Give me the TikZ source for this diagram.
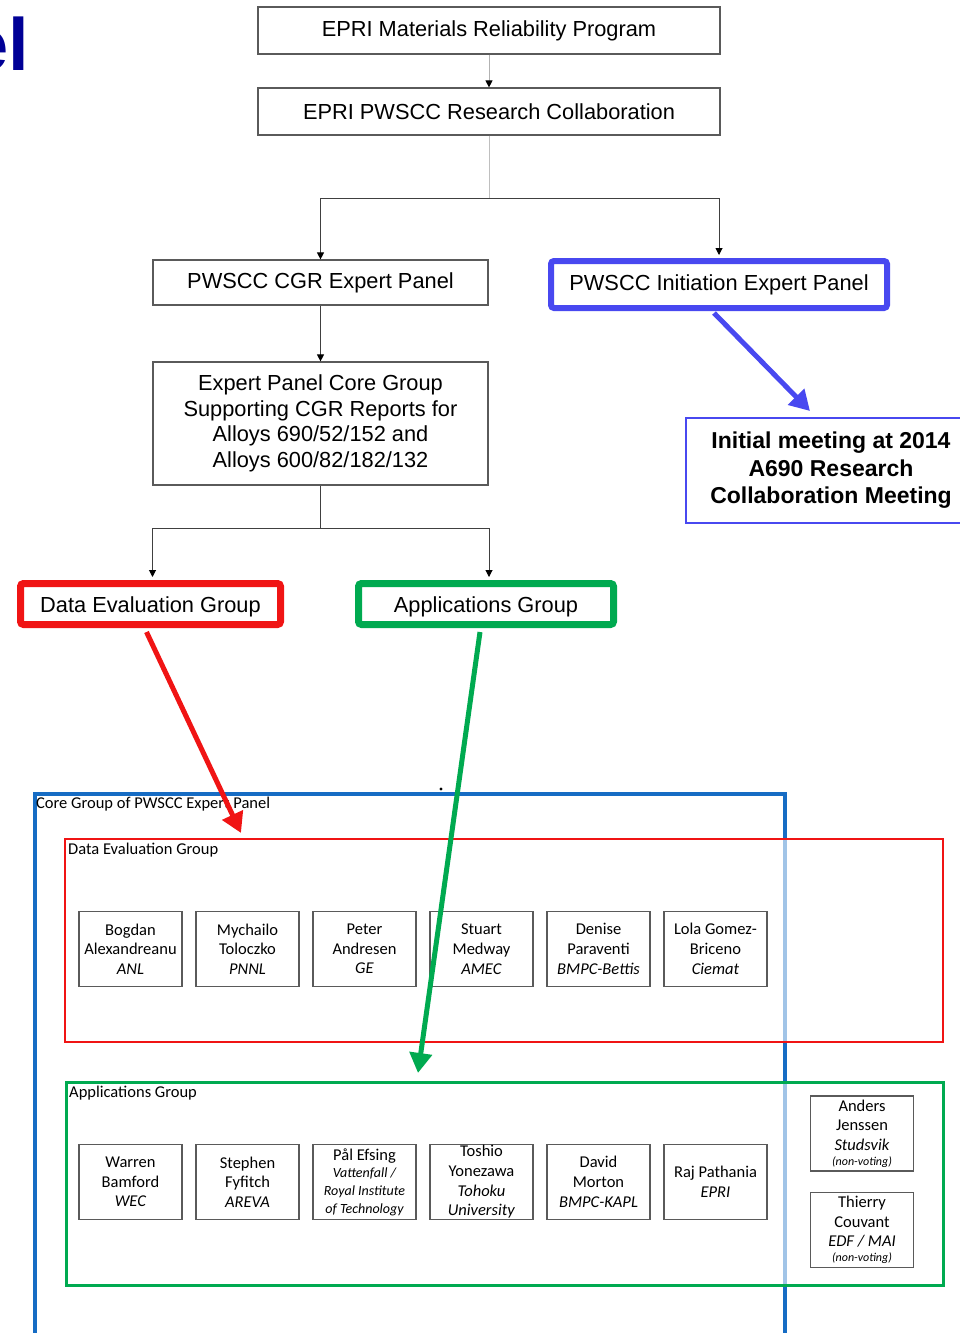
\documentclass[tikz,border=0pt]{standalone}
\definecolor{panelblue}{RGB}{72,72,240}
\definecolor{coreblue}{RGB}{22,108,196}
\definecolor{evalred}{RGB}{240,20,20}
\definecolor{appgreen}{RGB}{0,170,80}
\definecolor{titleblue}{RGB}{0,0,150}
\definecolor{boxgray}{RGB}{90,90,90}
\usepackage{fontspec}
\setmainfont{Liberation Sans}
\newfontfamily\calib{Carlito}
\newcommand\orgsmall[1]{{\itshape\fontsize{14}{17.5}\selectfont #1}}
\newcommand\nonvote[1]{{\itshape\fontsize{12}{13}\selectfont #1}}
\usepackage{tikz}
\usetikzlibrary{arrows.meta,positioning,calc}

\tikzset{
    orgbox/.style={draw=boxgray, line width=1.2pt, minimum width=462pt, minimum height=47pt,
          align=center, inner sep=2pt, font=\fontsize{21.8}{25.5}\selectfont},
    member/.style={draw=boxgray, line width=1.2pt, minimum width=103pt, minimum height=75pt,
          align=center, inner sep=0pt, font=\calib\fontsize{16.5}{19.7}\selectfont},
    grouplbl/.style={anchor=north west, inner sep=0pt, font=\calib\fontsize{16.5}{18}\selectfont},
    link/.style={draw=black!75, line width=1pt, -{Triangle[length=7pt,width=7pt,color=black]}},
    bigarrow/.style={line width=5pt, -{Triangle[length=20pt,width=22pt]}}
}

\begin{document}
\begin{tikzpicture}[x=1pt, y=-1pt]
    \useasboundingbox (0,0) rectangle (959,1333);

    \node[anchor=base east, inner sep=0pt, text=titleblue, font=\bfseries\fontsize{74}{74}\selectfont] (ttl) at (29,70) {el};

    % upper chart
    \node[orgbox] (mrp) at (489,30.5) {EPRI Materials Reliability Program};
    \node[orgbox] (collab) at (489,111.5) {EPRI PWSCC Research Collaboration};
    \node[orgbox, minimum width=335pt, minimum height=45pt] (cgr) at (320.5,282.5) {PWSCC CGR Expert Panel};
    \node[orgbox, draw=panelblue, line width=6pt, rounded corners=3pt, minimum width=336pt,
          minimum height=47pt] (init) at (719,284.5) {PWSCC Initiation Expert Panel};
    \node[draw=panelblue, line width=2pt, minimum width=290pt, minimum height=105pt, align=center,
          font=\bfseries\fontsize{23}{27.5}\selectfont] (meeting) at (831,470.5)
          {Initial meeting at 2014\\A690 Research\\Collaboration Meeting};
    \node[orgbox, minimum width=335pt, minimum height=123pt] (core) at (320.5,423.5)
          {Expert Panel Core Group\\Supporting CGR Reports for\\Alloys 690/52/152 and\\Alloys 600/82/182/132};
    \node[orgbox, draw=evalred, line width=7pt, rounded corners=3pt, minimum width=260pt,
          minimum height=41pt, text height=17pt, text depth=0pt] (deval) at (150.5,604) {Data Evaluation Group};
    \node[orgbox, draw=appgreen, line width=7pt, rounded corners=3pt, minimum width=255pt,
          minimum height=41pt, text height=17pt, text depth=0pt] (apps) at (486,604) {Applications Group};

    \draw[link, draw=black!30] (mrp) -- (collab);
    \draw[line width=1pt, draw=black!25] (collab.south) -- (collab.south |- 0,198) coordinate (fork1);
    \draw[link] (fork1) -| (cgr.north);
    \draw[link] (fork1) -| ($(init.north)+(0,-3)$);
    \draw[link] (cgr) -- (core);
    \draw[line width=1pt, draw=black!75] (core.south) -- ++(0,43) coordinate (fork2);
    \draw[link] (fork2) -| ($(deval.north)+(2,-3)$);
    \draw[link] (fork2) -| ($(apps.north)+(3,-3)$);

    % core group panel
    \node[draw=coreblue, line width=4pt, minimum width=750pt, minimum height=553pt, anchor=north west,
          inner sep=0pt] (coregrp) at (33,792) {};
    \node[grouplbl] (corelbl) at (36,797) {Core Group of PWSCC Expert Panel};
    \fill (441,789) circle (1.6pt);

    \node[draw=evalred, line width=2pt, fill=white, fill opacity=0.6, minimum width=878pt,
          minimum height=203pt, anchor=north west, inner sep=0pt] (evalbox) at (64,838) {};
    \node[grouplbl] (evallbl) at (68,843) {Data Evaluation Group};
    \node[draw=appgreen, line width=2.5pt, fill=white, fill opacity=0.6, minimum width=877pt,
          minimum height=203pt, anchor=north west, inner sep=0pt] (appbox) at (65,1081) {};
    \node[grouplbl] (applbl) at (69,1086) {Applications Group};

    \node[member] (bogdan) at (130.5,949) {Bogdan\\Alexandreanu\\\textit{ANL}};
    \node[member, right=12.8pt of bogdan] (mychailo) {Mychailo\\Toloczko\\\textit{PNNL}};
    \node[member, right=12.8pt of mychailo] (peter) {Peter\\Andresen\\\textit{GE}};
    \node[member, right=12.8pt of peter] (stuart) {Stuart\\Medway\\\textit{AMEC}};
    \node[member, right=12.8pt of stuart] (denise) {Denise\\Paraventi\\\textit{BMPC-Bettis}};
    \node[member, right=12.8pt of denise] (lola) {Lola Gomez-\\Briceno\\\textit{Ciemat}};

    \node[member] (warren) at (130.5,1182) {Warren\\Bamford\\\textit{WEC}};
    \node[member, right=12.8pt of warren] (stephen) {Stephen\\Fyfitch\\\textit{AREVA}};
    \node[member, right=12.8pt of stephen] (pal) {P\aa l Efsing\\[-2pt]
          \orgsmall{Vattenfall /}\\[-2pt]\orgsmall{Royal Institute}\\[-2pt]\orgsmall{of Technology}};
    \node[member, right=12.8pt of pal] (toshio) {Toshio\\Yonezawa\\\textit{Tohoku}\\\textit{University}};
    \node[member, right=12.8pt of toshio] (david) {David\\Morton\\\textit{BMPC-KAPL}};
    \node[member, right=12.8pt of david] (raj) {Raj Pathania\\\textit{EPRI}};

    \node[member] (anders) at (862,1133.5) {Anders\\Jenssen\\\textit{Studsvik}\\[-5pt]\nonvote{(non-voting)}};
    \node[member, below=20pt of anders] (thierry) {Thierry\\Couvant\\\textit{EDF / MAI}\\[-5pt]\nonvote{(non-voting)}};

    % pointers into the core group
    \coordinate (evaltip) at (241,833);
    \coordinate (apptip) at (418,1073);
    \draw[bigarrow, panelblue] ($(init.south)+(-5,2)$) -- ($(meeting.north)+(-21,-6)$);
    \draw[bigarrow, evalred] ($(deval.south)+(-4,4)$) -- (evaltip);
    \draw[bigarrow, appgreen] ($(apps.south)+(-6,4)$) -- (apptip);
\end{tikzpicture}
\end{document}
